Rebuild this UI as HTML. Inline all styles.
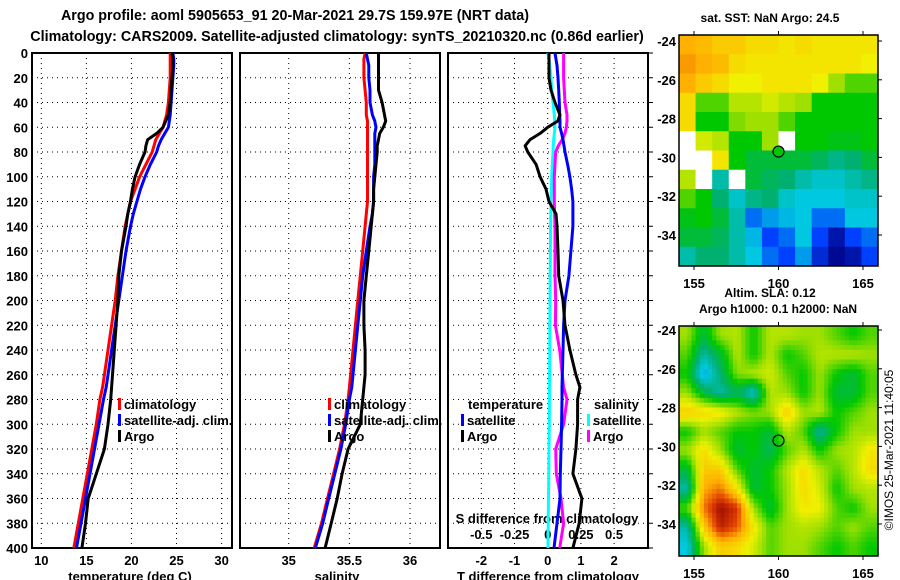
<!DOCTYPE html>
<html><head><meta charset="utf-8"><style>
body{margin:0;background:#fff}
svg{display:block;font-family:"Liberation Sans",sans-serif;font-weight:bold;font-size:13px}
</style></head><body>
<svg id="c" width="900" height="580" viewBox="0 0 900 580">
<text x="295" y="20" text-anchor="middle" font-size="14.3">Argo profile: aoml 5905653_91 20-Mar-2021 29.7S 159.97E (NRT data)</text>
<text x="337" y="41" text-anchor="middle" font-size="14.3">Climatology: CARS2009. Satellite-adjusted climatology: synTS_20210320.nc (0.86d earlier)</text>
<text x="770" y="22" text-anchor="middle" font-size="12">sat. SST: NaN Argo: 24.5</text>
<text x="770" y="297" text-anchor="middle" font-size="12">Altim. SLA: 0.12</text>
<text x="778" y="313" text-anchor="middle" font-size="12">Argo h1000: 0.1 h2000: NaN</text>
<text transform="translate(893,450) rotate(-90)" text-anchor="middle" font-size="12" font-weight="normal">©IMOS 25-Mar-2021 11:40:05</text>
<g id="g"></g>
</svg>
<script>
const depth=[0,5,10,20,30,40,50,55,60,65,70,75,80,90,100,110,120,130,140,160,180,200,220,240,260,270,280,300,320,340,360,380,400];
const tClim=[24.3,24.3,24.3,24.3,24.2,24.1,23.9,23.7,23.5,23.1,22.7,22.5,22.3,21.6,20.9,20.4,19.9,19.6,19.3,18.9,18.5,18.2,17.8,17.4,17.0,16.8,16.5,16.1,15.6,15.1,14.6,14.1,13.6];
const tSat=[24.6,24.7,24.7,24.6,24.5,24.4,24.3,24.2,24.1,23.7,23.3,23.0,22.8,22.1,21.5,21.0,20.6,20.2,19.9,19.4,19.0,18.6,18.2,17.8,17.4,17.2,16.9,16.4,15.9,15.4,14.9,14.4,13.9];
const tArgo=[24.5,24.6,24.6,24.5,24.4,24.3,24.1,23.8,23.5,22.8,21.8,21.6,21.5,20.9,20.4,20.1,19.9,19.6,19.4,18.9,18.6,18.5,18.3,18.1,17.9,17.8,17.7,17.4,17.0,16.1,15.2,14.9,14.5];
const sClim=[35.63,35.62,35.62,35.62,35.63,35.64,35.64,35.65,35.65,35.65,35.65,35.65,35.65,35.65,35.65,35.65,35.65,35.64,35.63,35.61,35.59,35.57,35.55,35.53,35.51,35.50,35.49,35.46,35.42,35.37,35.32,35.27,35.21];
const sSat=[35.64,35.65,35.66,35.66,35.67,35.67,35.69,35.71,35.72,35.71,35.71,35.71,35.71,35.71,35.70,35.70,35.70,35.69,35.67,35.64,35.61,35.59,35.57,35.55,35.53,35.52,35.50,35.47,35.43,35.38,35.33,35.28,35.22];
const sArgo=[35.74,35.74,35.74,35.74,35.74,35.77,35.79,35.80,35.78,35.75,35.74,35.73,35.73,35.72,35.71,35.70,35.70,35.69,35.68,35.66,35.64,35.62,35.62,35.63,35.63,35.62,35.61,35.59,35.49,35.44,35.40,35.35,35.30];
const dTArgo=[0.04,0.04,0.04,0.04,0.1,0.22,0.37,0.3,0,-0.23,-0.53,-0.68,-0.6,-0.35,-0.23,-0.05,0.04,0.25,0.28,0.31,0.33,0.46,0.52,0.67,0.85,0.97,0.9,0.9,0.85,0.76,1.03,0.95,0.76];
const dTSat=[0.22,0.25,0.28,0.31,0.33,0.35,0.36,0.37,0.37,0.42,0.46,0.49,0.52,0.6,0.67,0.72,0.76,0.76,0.76,0.7,0.64,0.52,0.48,0.46,0.44,0.43,0.43,0.42,0.4,0.38,0.37,0.28,0.19];
const dSSat=[0,0.01,0.015,0.025,0.03,0.04,0.05,0.052,0.055,0.05,0.045,0.042,0.04,0.035,0.03,0.028,0.025,0.023,0.022,0.02,0.018,0.017,0.016,0.015,0.014,0.013,0.013,0.012,0.01,0.008,0.006,0.004,0.002];
const dSArgo=[0.12,0.12,0.12,0.12,0.125,0.13,0.145,0.145,0.14,0.13,0.11,0.08,0.06,0.055,0.05,0.05,0.05,0.052,0.055,0.055,0.055,0.06,0.058,0.09,0.11,0.12,0.145,0.12,0.06,0.065,0.1,0.12,0.09];
const depthTicks=[0,20,40,60,80,100,120,140,160,180,200,220,240,260,280,300,320,340,360,380,400];
const tTicks=[10,15,20,25,30];
const sTicks=[35,35.5,36];
const dTTicks=[-2,-1,0,1,2];
const dSTicks=[-0.5,-0.25,0,0.25,0.5];
const dSTickLabels=["-0.5","-0.25","0","0.25","0.5"];
const sstGrid=[
[0.8,0.78,0.75,0.75,0.72,0.72,0.7,0.72,0.7,0.7,0.7,0.7],
[0.82,0.8,0.78,0.72,0.7,0.7,0.7,0.7,0.7,0.7,0.7,0.68],
[0.8,0.75,0.72,0.68,0.68,0.7,0.7,0.7,0.68,0.6,0.55,0.55],
[0.72,0.55,0.55,0.62,0.62,0.65,0.62,0.6,0.5,0.5,0.5,0.5],
[0.72,0.5,0.5,0.58,0.6,0.6,0.55,0.5,0.5,0.5,0.5,0.5],
[null,0.65,0.62,0.5,0.5,0.6,null,0.5,0.5,0.48,0.48,0.5],
[null,null,0.7,0.5,0.45,0.45,0.45,0.45,0.42,0.38,0.4,0.45],
[0.62,null,0.35,null,0.45,0.42,0.4,0.35,0.32,0.32,0.35,0.38],
[0.55,0.5,0.4,0.32,0.38,0.4,0.32,0.3,0.3,0.3,0.32,0.32],
[0.48,0.5,0.45,0.35,0.2,0.25,0.28,0.3,0.2,0.2,0.3,0.3],
[0.45,0.45,0.42,0.35,0.28,0.15,0.2,0.3,0.15,0.05,0.15,0.2],
[0.35,0.4,0.4,0.35,0.3,0.2,0.15,0.25,0.1,0.02,0.05,0.15]];
const slaGrid=[
[0.6,0.45,0.6,0.62,0.5,0.62,0.62,0.6,0.6,0.55,0.5,0.55],
[0.55,0.35,0.45,0.62,0.5,0.62,0.5,0.55,0.62,0.62,0.62,0.6],
[0.5,0.25,0.4,0.58,0.62,0.65,0.55,0.5,0.6,0.5,0.45,0.55],
[0.6,0.45,0.35,0.42,0.3,0.62,0.6,0.5,0.6,0.45,0.45,0.55],
[0.75,0.72,0.7,0.62,0.58,0.6,0.75,0.6,0.62,0.5,0.55,0.6],
[0.5,0.6,0.55,0.5,0.5,0.45,0.62,0.55,0.35,0.5,0.6,0.6],
[0.6,0.72,0.6,0.45,0.5,0.42,0.55,0.62,0.5,0.6,0.62,0.7],
[0.45,0.75,0.75,0.55,0.45,0.5,0.62,0.72,0.62,0.55,0.62,0.72],
[0.35,0.8,0.85,0.7,0.45,0.5,0.6,0.72,0.65,0.5,0.6,0.62],
[0.55,0.85,0.98,0.92,0.6,0.45,0.6,0.7,0.68,0.55,0.5,0.6],
[0.35,0.75,0.95,0.88,0.7,0.55,0.6,0.62,0.6,0.55,0.6,0.55],
[0.3,0.6,0.75,0.72,0.65,0.55,0.6,0.6,0.55,0.5,0.55,0.5]];
const lonTicks=[155,160,165];
const latTicks=[-24,-26,-28,-30,-32,-34];
const argoLon=160, argoLat=-29.7;

const NS='http://www.w3.org/2000/svg';
const G=document.getElementById('g');
function mk(tag,at,parent){const e=document.createElementNS(NS,tag);for(const k in at)e.setAttribute(k,at[k]);(parent||G).appendChild(e);return e;}
const Y0=53,Y1=548;
const yD=d=>Y0+d*(Y1-Y0)/400;
function lin(v0,p0,v1,p1){return v=>p0+(v-v0)*(p1-p0)/(v1-v0);}
const xT=lin(10,41.3,30,221.6), xS=lin(35,288.7,36,410), xDT=lin(0,547.7,1,580.9), xDS=lin(0,547.7,0.25,580.9);
const panels=[[32,232],[240,440],[448,648]];

function grid(p,xs,xf,name){
  const [a,b]=p;
  depthTicks.forEach(d=>{if(d>0&&d<400){const l=mk('line',{x1:a,x2:b,y1:yD(d),y2:yD(d),stroke:'#000','stroke-dasharray':'1,4'});
    }});
  xs.forEach(v=>{const x=xf(v);const l=mk('line',{x1:x,x2:x,y1:Y0,y2:Y1,stroke:'#000','stroke-dasharray':'1,4'});
    });
  const r=mk('rect',{x:a,y:Y0,width:b-a,height:Y1-Y0,fill:'none',stroke:'#000','stroke-width':2});
  
}
function txt(x,y,s,anchor,name,extra){const t=mk('text',Object.assign({x:x,y:y,'text-anchor':anchor||'start'},extra||{}));t.textContent=s;
  return t;}
function series(xf,vals,color,name){
  const pts=vals.map((v,i)=>xf(v).toFixed(1)+','+yD(depth[i]).toFixed(1)).join(' ');
  const l=mk('polyline',{points:pts,fill:'none',stroke:color,'stroke-width':3,'stroke-linejoin':'round'});
  
}
grid(panels[0],tTicks,xT,'temp-panel');
grid(panels[1],sTicks,xS,'sal-panel');
grid(panels[2],dTTicks,xDT,'diff-panel');
depthTicks.forEach(d=>txt(28,yD(d)+5,String(d),'end','depth-tick-label'));
depthTicks.forEach(d=>{const l=mk('line',{x1:648,x2:653,y1:yD(d),y2:yD(d),stroke:'#000'});});
tTicks.forEach(v=>txt(xT(v),565,String(v),'middle','temp-tick-label'));
sTicks.forEach(v=>txt(xS(v),565,String(v),'middle','sal-tick-label'));
dTTicks.forEach(v=>txt(xDT(v),565,String(v),'middle','tdiff-tick-label'));
dSTicks.forEach((v,i)=>txt(xDS(v),539,dSTickLabels[i],'middle','sdiff-tick-label'));
txt(130,581,'temperature (deg C)','middle','temp-axis-title');
txt(337,581,'salinity','middle','sal-axis-title');
txt(548,581,'T difference from climatology','middle','tdiff-axis-title');
txt(547,523,'S difference from climatology','middle','sdiff-axis-title');

series(xT,tClim,'#f00','temp-climatology-line');
series(xT,tSat,'#00f','temp-satellite-line');
series(xT,tArgo,'#000','temp-argo-line');
series(xS,sClim,'#f00','sal-climatology-line');
series(xS,sSat,'#00f','sal-satellite-line');
series(xS,sArgo,'#000','sal-argo-line');
series(xDS,dSSat,'#0ff','sdiff-satellite-line');
series(xDS,dSArgo,'#f0f','sdiff-argo-line');
series(xDT,dTSat,'#00f','tdiff-satellite-line');
series(xDT,dTArgo,'#000','tdiff-argo-line');

function legend(x,y,color,label,name){
  const m=mk('rect',{x:x,y:y-11,width:3,height:12,fill:color});
  txt(x+6,y,label,'start',name);
}
legend(118,409,'#f00','climatology','legend-temp-climatology');
legend(118,425,'#00f','satellite-adj. clim.','legend-temp-satellite');
legend(118,441,'#000','Argo','legend-temp-argo');
legend(328,409,'#f00','climatology','legend-sal-climatology');
legend(328,425,'#00f','satellite-adj. clim.','legend-sal-satellite');
legend(328,441,'#000','Argo','legend-sal-argo');
txt(468,409,'temperature','start','legend-temp-heading');
legend(461,425,'#00f','satellite','legend-tdiff-satellite');
legend(461,441,'#000','Argo','legend-tdiff-argo');
txt(594,409,'salinity','start','legend-sal-heading');
legend(587,425,'#0ff','satellite','legend-sdiff-satellite');
legend(587,441,'#f0f','Argo','legend-sdiff-argo');

const stops=[[0,[0,0,128]],[0.15,[0,64,255]],[0.3,[0,200,224]],[0.4,[0,176,112]],[0.5,[0,200,0]],[0.6,[160,224,0]],[0.68,[240,240,0]],[0.8,[255,176,0]],[0.9,[224,64,0]],[1,[144,0,0]]];
function cmap(v){for(let i=1;i<stops.length;i++){if(v<=stops[i][0]){const [a,ca]=stops[i-1],[b,cb]=stops[i];const t=(v-a)/(b-a);
  return 'rgb('+ca.map((c,k)=>Math.round(c+(cb[k]-c)*t)).join(',')+')';}}return 'rgb(144,0,0)';}
function sample(gridv,fr,fc){
  const nr=gridv.length,nc=gridv[0].length;
  const r=Math.min(Math.max(fr-0.5,0),nr-1), c=Math.min(Math.max(fc-0.5,0),nc-1);
  const r0=Math.floor(r),c0=Math.floor(c),r1=Math.min(r0+1,nr-1),c1=Math.min(c0+1,nc-1),tr=r-r0,tc=c-c0;
  return (gridv[r0][c0]*(1-tc)+gridv[r0][c1]*tc)*(1-tr)+(gridv[r1][c0]*(1-tc)+gridv[r1][c1]*tc)*tr;
}
function map(gridv,x0,y0,w,h,latTop,name,fillMarker,smooth){
  const lonX=lin(155,694,165,863), latY=lin(-24,y0+(latTop),-34,y0+latTop+194);
  const nr=gridv.length,nc=gridv[0].length;
  if(smooth){
    const k=4,R=nr*k,C=nc*k,cw=w/C,ch=h/R;
    for(let r=0;r<R;r++)for(let c=0;c<C;c++){
      const v=sample(gridv,(r+0.5)/k,(c+0.5)/k);
      const e=mk('rect',{x:(x0+c*cw).toFixed(2),y:(y0+r*ch).toFixed(2),width:(cw+0.5).toFixed(2),height:(ch+0.5).toFixed(2),fill:cmap(v)});
      }
  } else {
    const cw=w/nc,ch=h/nr;
    gridv.forEach((row,r)=>row.forEach((v,c)=>{
      const e=mk('rect',{x:(x0+c*cw).toFixed(2),y:(y0+r*ch).toFixed(2),width:(cw+0.5).toFixed(2),height:(ch+0.5).toFixed(2),fill:v===null?'#fff':cmap(v)});
      }));
  }
  const fr=mk('rect',{x:x0,y:y0,width:w,height:h,fill:'none',stroke:'#000','stroke-width':1.5});
  
  lonTicks.forEach(v=>{const x=lonX(v);
    const t1=mk('line',{x1:x,x2:x,y1:y0-4,y2:y0,stroke:'#000'});
    const t2=mk('line',{x1:x,x2:x,y1:y0+h,y2:y0+h+4,stroke:'#000'});
    txt(x,y0+h+22,String(v),'middle',name+'-lon-label');});
  latTicks.forEach(v=>{const y=latY(v);
    const t1=mk('line',{x1:x0+w,x2:x0+w+4,y1:y,y2:y,stroke:'#000'});
    txt(x0-3,y+5,String(v),'end',name+'-lat-label');});
  const m=mk('circle',{cx:lonX(argoLon),cy:latY(argoLat),r:5.5,fill:fillMarker,stroke:'#000','stroke-width':1.2});
  
}
map(sstGrid,679,35,199,231,6,'sst-map','#00c800',false);
map(slaGrid,679,326,199,230,4,'sla-map','none',true);
</script>
</body></html>
